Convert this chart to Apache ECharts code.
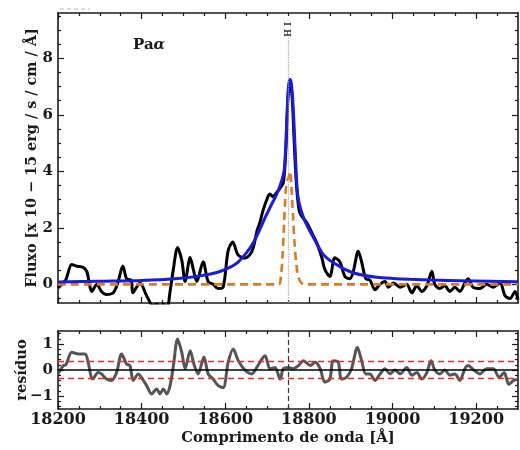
<!DOCTYPE html>
<html>
<head>
<meta charset="utf-8">
<script src="https://cdn.jsdelivr.net/npm/echarts@6/dist/echarts.min.js"></script>
<style>html,body{margin:0;padding:0;background:#fff;}#c{width:520px;height:450px;}</style>
</head>
<body>
<div id="c"></div>
<script>
// ---- data ----
const lambdaObs = [18200,18212,18219,18233,18245,18260,18269,18281,18293,18304,18316,18332,18343,18355,18364,18375,18379,18396,18412,18427,18437,18444,18451,18461,18468,18475,18486,18496,18504,18516,18524,18532,18547,18559,18571,18583,18595,18607,18618,18630,18647,18659,18667,18676,18683,18690,18702,18707,18714,18723,18731,18739,18745,18750,18755,18760,18764,18769,18774,18779,18795,18807,18819,18831,18838,18850,18862,18874,18886,18898,18906,18918,18926,18936,18946,18958,18970,18982,18990,19002,19018,19034,19046,19058,19070,19082,19094,19101,19113,19125,19137,19149,19161,19173,19181,19192,19209,19225,19241,19257,19269,19281,19293,19300];
const fluxObs = [-0.13,0.05,0.17,0.7,0.64,0.6,0.45,-0.25,0.0,-0.25,-0.36,-0.3,0.05,0.65,0.2,0.15,-0.3,0.05,-0.4,-0.75,-0.7,-0.8,-0.7,-0.8,-0.25,0.45,1.3,0.85,0.1,0.95,0.5,0.1,0.8,0.1,0.0,-0.15,-0.1,1.2,1.5,1.05,0.93,1.05,1.3,1.9,2.2,2.6,3.1,3.2,3.1,3.25,3.4,3.6,4.8,6.6,7.2,6.6,5.3,3.8,2.9,2.5,2.18,1.83,1.46,0.94,0.53,0.28,0.94,0.8,0.28,0.2,0.45,1.17,0.8,0.2,0.15,-0.19,0.0,0.1,-0.1,0.05,-0.1,0.0,-0.3,-0.05,-0.25,-0.05,0.46,0.0,-0.15,-0.05,-0.25,-0.1,-0.25,0.05,0.2,-0.1,-0.15,0.0,-0.1,0.05,-0.4,-0.5,-0.25,-0.55];

const lambdaFit = [18200,18300,18400,18480,18540,18580,18611,18630,18651,18668,18683,18695,18707,18723,18735,18741,18745,18749,18752,18755,18758,18761,18764,18767,18770,18773,18777,18787,18800,18811,18822,18834,18850,18866,18885,18906,18930,18962,19000,19042,19100,19161,19230,19300];
const fluxFit = [0.08,0.11,0.14,0.2,0.3,0.42,0.6,0.78,1.12,1.5,1.95,2.35,2.72,3.19,3.67,4.05,5.0,6.5,7.1,7.25,7.1,6.6,5.8,4.8,3.8,3.2,2.85,2.36,1.95,1.65,1.35,1.06,0.85,0.7,0.54,0.41,0.32,0.25,0.21,0.18,0.15,0.13,0.11,0.09];

const lambdaNarrow = [18200,18728,18733,18737,18741,18745,18749,18752,18755,18758,18762,18766,18770,18775,18782,18790,19300];
const fluxNarrow = [0,0,0.3,1.0,2.3,3.4,3.7,3.8,4.0,3.5,2.4,1.4,0.7,0.25,0.05,0,0];

const lambdaRes = [18200,18213,18219,18233,18249,18265,18272,18283,18296,18304,18316,18328,18340,18352,18364,18372,18380,18392,18400,18412,18424,18436,18444,18452,18460,18468,18476,18486,18496,18504,18516,18526,18535,18549,18559,18571,18583,18595,18607,18619,18631,18647,18663,18679,18695,18707,18719,18731,18739,18751,18763,18775,18787,18803,18815,18827,18838,18850,18858,18870,18878,18890,18902,18916,18926,18936,18946,18958,18970,18982,18994,19006,19018,19034,19046,19058,19070,19082,19092,19101,19113,19125,19137,19149,19161,19173,19181,19194,19209,19225,19241,19255,19267,19278,19290,19300];
const residuals = [-0.15,0.17,0.2,0.68,0.62,0.62,0.3,-0.35,-0.1,-0.15,-0.35,-0.4,-0.1,0.62,0.23,0.17,-0.4,-0.15,-0.3,-0.6,-0.92,-0.73,-0.92,-0.73,-0.92,-0.6,0.17,1.19,0.68,0.05,0.74,0.17,-0.15,0.5,-0.15,-0.35,-0.6,-0.68,0.3,0.81,0.36,0.0,-0.15,0.2,0.55,0.05,0.1,-0.35,0.05,0.1,0.05,0.17,0.36,0.17,0.3,0.05,-0.47,-0.35,0.36,0.3,-0.35,-0.28,0.05,0.87,0.36,-0.15,-0.15,-0.4,-0.15,0.05,-0.15,0.0,-0.15,0.1,-0.2,-0.1,-0.35,-0.1,0.36,0.0,-0.15,0.0,-0.2,-0.15,-0.4,0.05,0.17,0.0,-0.15,0.05,0.05,-0.28,-0.1,-0.55,-0.4,-0.35];

const lineCenter = 18751;       // H I Pa-alpha rest wavelength
const residSigma = [0.33, -0.33];

const xMajorTicks = [18200,18400,18600,18800,19000,19200];
const xMinorTicks = [18250,18300,18350,18450,18500,18550,18650,18700,18750,18850,18900,18950,19050,19100,19150,19250];
const yTopMajor = [0,2,4,6,8];
const yTopMinor = [-0.5,0.5,1,1.5,2.5,3,3.5,4.5,5,5.5,6.5,7,7.5,8.5,9,9.5];
const yResMajor = [-1,0,1];
const yResMinor = [-1.4,-1.2,-0.8,-0.6,-0.4,-0.2,0.2,0.4,0.6,0.8,1.2,1.4];

// ---- chart ----
const FONT = 'DejaVu Serif';
const X0 = 18200, X1 = 19300;
const TOP_MIN = -0.66, TOP_MAX = 9.6;
const RES_MIN = -1.5, RES_MAX = 1.5;
const pairs = (xs, ys) => xs.map((x, i) => [x, ys[i]]);
const fmt = v => (v < 0 ? '\u2212' + Math.abs(v) : String(v));

function ax(grid, pos, min, max, ticks, len, showLine, extra) {
  return Object.assign({
    type: 'value', gridIndex: grid, position: pos, min: min, max: max,
    axisLine: { show: showLine, onZero: false, lineStyle: { color: '#1a1a1a', width: 1.6 } },
    axisTick: { show: true, inside: true, length: len, customValues: ticks, lineStyle: { color: '#1a1a1a', width: 1.2 } },
    axisLabel: { show: false },
    splitLine: { show: false }
  }, extra || {});
}
const labelStyle = (ticks, margin, size) => ({
  show: true, customValues: ticks, formatter: fmt, margin: margin,
  fontFamily: FONT, fontWeight: 'bold', fontSize: size, color: '#1a1a1a'
});
const nameStyle = { fontFamily: FONT, fontWeight: 'bold', fontSize: 14.4, color: '#1a1a1a' };

const xAxes = [
  ax(0, 'bottom', X0, X1, xMajorTicks, 6, true),
  ax(0, 'bottom', X0, X1, xMinorTicks, 3, false),
  ax(0, 'top', X0, X1, xMajorTicks, 6, true),
  ax(0, 'top', X0, X1, xMinorTicks, 3, false),
  ax(1, 'bottom', X0, X1, xMajorTicks, 6, true, {
    axisLabel: labelStyle(xMajorTicks, 3, 16),
    name: 'Comprimento de onda [\u00C5]', nameLocation: 'middle', nameGap: 22, nameMoveOverlap: false,
    nameTextStyle: Object.assign({}, nameStyle, { fontSize: 14.7 })
  }),
  ax(1, 'bottom', X0, X1, xMinorTicks, 3, false),
  ax(1, 'top', X0, X1, xMajorTicks, 6, true),
  ax(1, 'top', X0, X1, xMinorTicks, 3, false)
];
const yAxes = [
  ax(0, 'left', TOP_MIN, TOP_MAX, yTopMajor, 6, true, {
    axisLabel: labelStyle(yTopMajor, 5, 15),
    name: 'Fluxo [x 10 \u2212 15 erg / s / cm / \u00C5]', nameLocation: 'middle', nameGap: 19, nameMoveOverlap: false,
    nameTextStyle: nameStyle
  }),
  ax(0, 'left', TOP_MIN, TOP_MAX, yTopMinor, 3, false),
  ax(0, 'right', TOP_MIN, TOP_MAX, yTopMajor, 6, true),
  ax(0, 'right', TOP_MIN, TOP_MAX, yTopMinor, 3, false),
  ax(1, 'left', RES_MIN, RES_MAX, yResMajor, 6, true, {
    axisLabel: labelStyle(yResMajor, 5, 15),
    name: 'res\u00EDduo', nameLocation: 'middle', nameGap: 28, nameMoveOverlap: false,
    nameTextStyle: Object.assign({}, nameStyle, { fontSize: 14.6 })
  }),
  ax(1, 'left', RES_MIN, RES_MAX, yResMinor, 3, false),
  ax(1, 'right', RES_MIN, RES_MAX, yResMajor, 6, true),
  ax(1, 'right', RES_MIN, RES_MAX, yResMinor, 3, false)
];

const option = {
  animation: false,
  backgroundColor: '#fff',
  grid: [
    { left: 58, top: 13, width: 460, height: 290, containLabel: false, outerBoundsMode: 'none' },
    { left: 58, top: 331, width: 460, height: 78, containLabel: false, outerBoundsMode: 'none' }
  ],
  xAxis: xAxes,
  yAxis: yAxes,
  series: [
    {
      type: 'line', xAxisIndex: 0, yAxisIndex: 0, data: pairs(lambdaObs, fluxObs),
      showSymbol: false, smooth: 0.3, lineStyle: { color: '#000', width: 3 }, z: 2, clip: true
    },
    {
      type: 'line', xAxisIndex: 0, yAxisIndex: 0, data: pairs(lambdaNarrow, fluxNarrow),
      showSymbol: false, smooth: 0.3, lineStyle: { color: '#dc7a25', width: 2.6, type: [8, 5] }, z: 3,
      markLine: {
        silent: true, symbol: 'none', label: { show: false },
        lineStyle: { color: '#aaaaaa', type: 'dotted', width: 1.2 },
        data: [[{ coord: [lineCenter, TOP_MIN] }, { coord: [lineCenter, 8.82] }]]
      }
    },
    {
      type: 'line', xAxisIndex: 0, yAxisIndex: 0, data: pairs(lambdaFit, fluxFit),
      showSymbol: false, smooth: 0.3, lineStyle: { color: '#1a1ae0', width: 3 }, z: 4
    },
    {
      type: 'line', xAxisIndex: 4, yAxisIndex: 4, data: pairs(lambdaRes, residuals),
      showSymbol: false, smooth: 0.3, lineStyle: { color: '#555555', width: 3 }, z: 2,
      markLine: {
        silent: true, symbol: 'none', label: { show: false },
        data: [
          { yAxis: residSigma[0], lineStyle: { color: '#e8282a', type: [6, 4], width: 1.4 } },
          { yAxis: residSigma[1], lineStyle: { color: '#e8282a', type: [6, 4], width: 1.4 } },
          { yAxis: 0, lineStyle: { color: '#000', type: 'solid', width: 1.5 } },
          { xAxis: lineCenter, lineStyle: { color: '#333', type: [5, 3], width: 1.2 } }
        ]
      }
    }
  ],
  graphic: [
    {
      type: 'text', left: 133, top: 38,
      style: {
        text: '{a|Pa}{b|\u03B1}',
        rich: {
          a: { fontFamily: FONT, fontWeight: 'bold', fontSize: 15, fill: '#1a1a1a' },
          b: { fontFamily: FONT, fontWeight: 'bold', fontStyle: 'italic', fontSize: 15, fill: '#1a1a1a' }
        }
      }
    },
    {
      type: 'text', x: 289, y: 37, rotation: Math.PI / 2,
      style: { text: 'H I', fontFamily: FONT, fontWeight: 'bold', fontSize: 8.5, fill: '#333', align: 'left', verticalAlign: 'middle' }
    },
    {
      type: 'line', shape: { x1: 60, y1: 9, x2: 90, y2: 9 },
      style: { stroke: '#bbbbbb', lineWidth: 1, lineDash: [4, 3] }
    }
  ]
};

const chart = echarts.init(document.getElementById('c'), null, { renderer: 'canvas' });
chart.setOption(option);
</script>
</body>
</html>
